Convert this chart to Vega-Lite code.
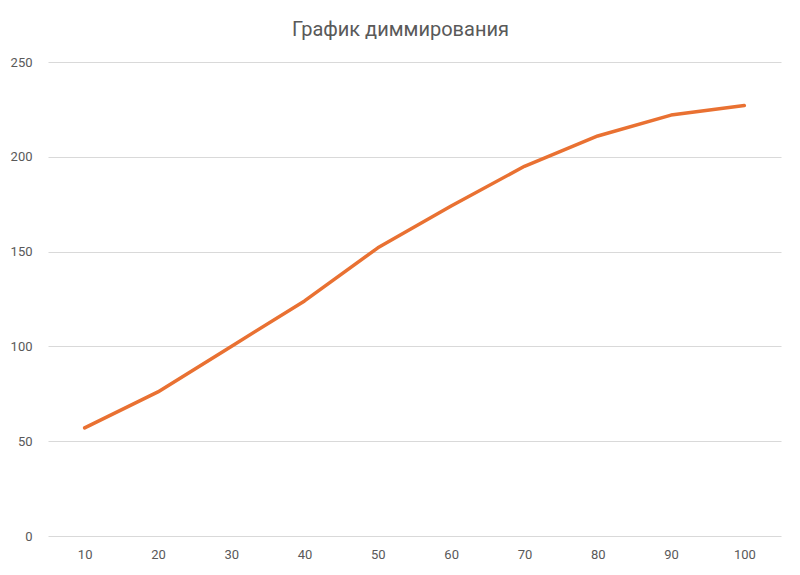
{
  "$schema": "https://vega.github.io/schema/vega-lite/v6.json",
  "width": 733,
  "height": 474,
  "autosize": {"type": "none"},
  "padding": {"left": 48, "top": 62, "right": 19, "bottom": 39},
  "background": "white",
  "title": {
    "text": "График диммирования",
    "anchor": "middle",
    "font": "Roboto",
    "fontSize": 20,
    "fontWeight": "normal",
    "color": "#595959",
    "offset": 16,
    "dx": -14
  },
  "data": {
    "values": [
      {"level": 10, "value": 57},
      {"level": 20, "value": 76},
      {"level": 30, "value": 100},
      {"level": 40, "value": 124},
      {"level": 50, "value": 152},
      {"level": 60, "value": 174},
      {"level": 70, "value": 195},
      {"level": 80, "value": 211},
      {"level": 90, "value": 222},
      {"level": 100, "value": 227}
    ]
  },
  "mark": {
    "type": "line",
    "color": "#E97132",
    "strokeWidth": 3.5,
    "strokeCap": "round",
    "strokeJoin": "round"
  },
  "encoding": {
    "x": {
      "field": "level",
      "type": "ordinal",
      "sort": null,
      "scale": {"type": "point", "padding": 0.5},
      "axis": {
        "title": null,
        "labelAngle": 0,
        "domain": false,
        "ticks": false,
        "grid": false,
        "labelPadding": 12,
        "labelFont": "Roboto",
        "labelFontSize": 13,
        "labelColor": "#595959"
      }
    },
    "y": {
      "field": "value",
      "type": "quantitative",
      "scale": {"domain": [0, 250], "nice": false},
      "axis": {
        "title": null,
        "values": [0, 50, 100, 150, 200, 250],
        "domain": false,
        "ticks": false,
        "gridColor": "#d9d9d9",
        "gridWidth": 1,
        "labelPadding": 16,
        "labelFont": "Roboto",
        "labelFontSize": 13,
        "labelColor": "#595959"
      }
    }
  },
  "config": {
    "view": {"stroke": null}
  }
}
